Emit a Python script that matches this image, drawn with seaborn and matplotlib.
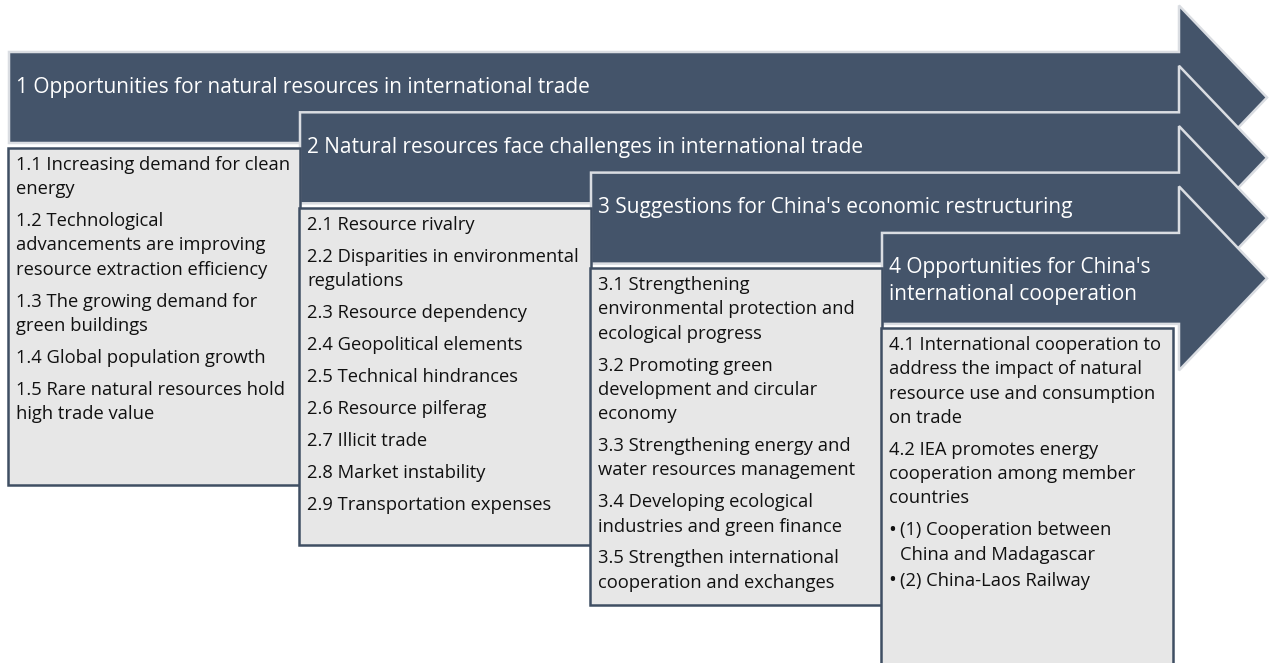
import matplotlib
matplotlib.use("Agg")
import matplotlib.pyplot as plt
import seaborn as sns
from matplotlib.patches import Polygon, Rectangle

# ---- content -------------------------------------------------------------
headers = [
    "1 Opportunities for natural resources in international trade",
    "2 Natural resources face challenges in international trade",
    "3 Suggestions for China's economic restructuring",
    "4 Opportunities for China's\ninternational cooperation",
]

items_1 = [
    "1.1 Increasing demand for clean\nenergy",
    "1.2 Technological\nadvancements are improving\nresource extraction efficiency",
    "1.3 The growing demand for\ngreen buildings",
    "1.4 Global population growth",
    "1.5 Rare natural resources hold\nhigh trade value",
]
items_2 = [
    "2.1 Resource rivalry",
    "2.2 Disparities in environmental\nregulations",
    "2.3 Resource dependency",
    "2.4 Geopolitical elements",
    "2.5 Technical hindrances",
    "2.6 Resource pilferag",
    "2.7 Illicit trade",
    "2.8 Market instability",
    "2.9 Transportation expenses",
]
items_3 = [
    "3.1 Strengthening\nenvironmental protection and\necological progress",
    "3.2 Promoting green\ndevelopment and circular\neconomy",
    "3.3 Strengthening energy and\nwater resources management",
    "3.4 Developing ecological\nindustries and green finance",
    "3.5 Strengthen international\ncooperation and exchanges",
]
items_4 = [
    "4.1 International cooperation to\naddress the impact of natural\nresource use and consumption\non trade",
    "4.2 IEA promotes energy\ncooperation among member\ncountries",
    "•(1) Cooperation between\nChina and Madagascar",
    "•(2) China-Laos Railway",
]
sections = [items_1, items_2, items_3, items_4]

# ---- style ---------------------------------------------------------------
sns.set_theme(style="white")
FONT = ["Open Sans", "DejaVu Sans"]
plt.rcParams["font.family"] = FONT

NAVY = "#44546A"
EDGE_LIGHT = "#DADDE2"
BOX_FILL = "#E7E7E7"
BOX_EDGE = "#3F4E63"

W, H = 1272, 663
fig = plt.figure(figsize=(W / 100, H / 100), dpi=100)
ax = fig.add_axes([0, 0, 1, 1])
ax.set_xlim(0, W)
ax.set_ylim(H, 0)
ax.axis("off")
renderer = fig.canvas.get_renderer()


def fit_size(s, target_px):
    # font size that makes string s about target_px wide
    t = ax.text(0, 0, s, fontsize=10)
    w = t.get_window_extent(renderer).width
    t.remove()
    return 10 * target_px / w


head_fs = fit_size(headers[0], 576)
body_fs = fit_size(items_1[0].split("\n")[0], 275)

x_step, y_step = 291, 60.3
shaft_end, tip_x, head_half = 1179, 1267, 92
band_h = 91

# arrows (drawn in order so later ones overlap earlier ones)
for i, title in enumerate(headers):
    x0 = 9 + x_step * i
    top = 52 + y_step * i
    bot = top + band_h
    cy = top + band_h / 2
    pts = [(x0, top), (shaft_end, top), (shaft_end, cy - head_half),
           (tip_x, cy), (shaft_end, cy + head_half), (shaft_end, bot), (x0, bot)]
    ax.add_patch(Polygon(pts, closed=True, facecolor=NAVY,
                         edgecolor=EDGE_LIGHT, lw=1.8, joinstyle="miter", zorder=2 + i))
    for k, line in enumerate(title.split("\n")):
        ax.text(x0 + 7, top + 35 + 27 * k, line, color="white", fontsize=head_fs,
                va="center", ha="left", zorder=2 + i)

# detail boxes
box_w, box_h = 292, 337
line_step, para_gap = 24.3, 7.6
for i, items in enumerate(sections):
    x0 = 8 + x_step * i
    top = 148 + 60 * i
    ax.add_patch(Rectangle((x0, top), box_w, box_h, facecolor=BOX_FILL,
                           edgecolor=BOX_EDGE, lw=1.8, zorder=10))
    y = top + 17
    for item in items:
        tx = x0 + 8
        bullet = item.startswith("•")
        if bullet:
            ax.text(tx - 1, y, "•", fontsize=body_fs * 1.15, va="center", ha="left",
                    color="#111111", zorder=11)
            item = item[1:]
            tx += 11
        for line in item.split("\n"):
            ax.text(tx, y, line, fontsize=body_fs, va="center", ha="left",
                    color="#111111", zorder=11)
            y += line_step
        y += 2 if bullet else para_gap

fig.savefig("out.png", dpi=100, facecolor="white")
